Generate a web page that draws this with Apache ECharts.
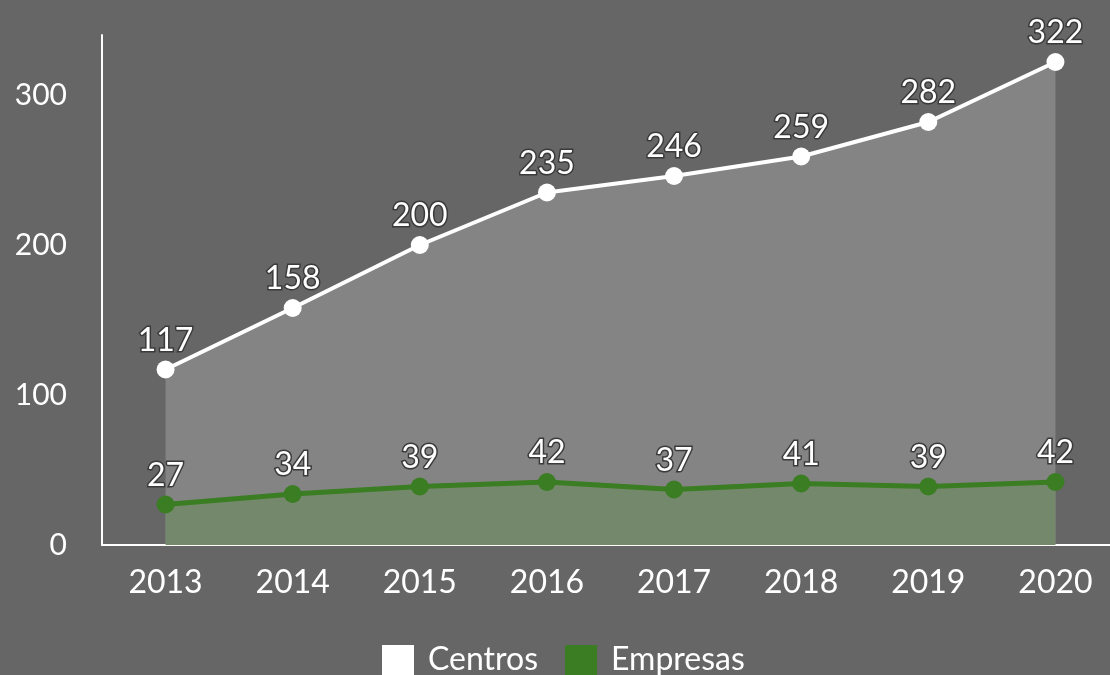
<!DOCTYPE html>
<html>
<head>
<meta charset="utf-8">
<script src="https://cdn.jsdelivr.net/npm/echarts@6/dist/echarts.min.js"></script>
<style>
html,body{margin:0;padding:0;background:#666666;}
#c{width:1110px;height:675px;}
</style>
</head>
<body>
<div id="c"></div>
<script>
const categories = ['2013','2014','2015','2016','2017','2018','2019','2020'];
const centros = [117,158,200,235,246,259,282,322];
const empresas = [27,34,39,42,37,41,39,42];
const yTicks = [0,100,200,300];

const chart = echarts.init(document.getElementById('c'));
const font = 'Lato, "Open Sans", sans-serif';
const lbl = {
  show: true, position: 'top', distance: 4,
  color: '#ffffff', fontFamily: font, fontSize: 32,
  textBorderColor: '#3a3a3a', textBorderWidth: 3
};
chart.setOption({
  backgroundColor: '#666666',
  animation: false,
  grid: {left: 102, width: 1017, top: 35, bottom: 130, outerBoundsMode: 'none', containLabel: false},
  legend: {
    bottom: -6, left: 377,
    icon: 'rect', itemWidth: 32, itemHeight: 30, itemGap: 27,
    textStyle: {color: '#ffffff', fontFamily: font, fontSize: 32, padding: [0, 0, 0, 9]},
    data: ['Centros','Empresas']
  },
  xAxis: {
    type: 'category', data: categories, boundaryGap: true,
    axisLine: {lineStyle: {color: '#ffffff', width: 2}},
    axisTick: {show: false},
    axisLabel: {color: '#ffffff', fontFamily: font, fontSize: 32, margin: 22}
  },
  yAxis: {
    type: 'value', min: 0, max: 340, interval: 100,
    axisLine: {show: true, lineStyle: {color: '#ffffff', width: 2}},
    axisTick: {show: false},
    splitLine: {show: false},
    axisLabel: {
      color: '#ffffff', fontFamily: font, fontSize: 30, margin: 35,
      formatter: v => yTicks.includes(v) ? String(v) : ''
    }
  },
  series: [
    {
      name: 'Centros', type: 'line', data: centros,
      color: '#ffffff',
      symbol: 'circle', symbolSize: 18,
      lineStyle: {color: '#ffffff', width: 4},
      itemStyle: {color: '#ffffff'},
      areaStyle: {color: '#ffffff', opacity: 0.2},
      label: lbl
    },
    {
      name: 'Empresas', type: 'line', data: empresas,
      color: '#3a7d22',
      symbol: 'circle', symbolSize: 18,
      lineStyle: {color: '#3a7d22', width: 5},
      itemStyle: {color: '#3a7d22'},
      areaStyle: {color: '#74886c', opacity: 1},
      label: lbl
    }
  ]
});
</script>
</body>
</html>
